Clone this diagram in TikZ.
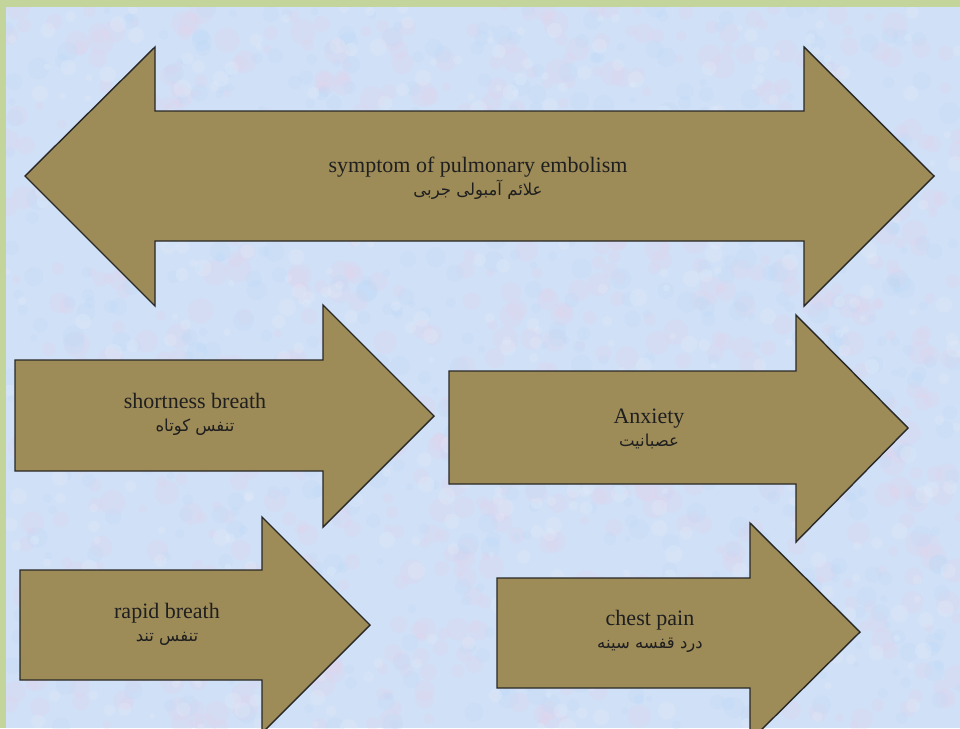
\documentclass[tikz,border=0pt]{standalone}
\usepackage{fontspec}
\setmainfont{Liberation Serif}
\newfontfamily\arabicfont[Script=Arabic]{DejaVu Sans}
\TeXXeTstate=1
\definecolor{frame}{RGB}{196,213,156}
\definecolor{paper}{RGB}{208,224,246}
\definecolor{blot}{RGB}{230,208,236}
\definecolor{blotb}{RGB}{188,216,246}
\definecolor{blotw}{RGB}{232,238,250}
\definecolor{khaki}{RGB}{157,139,88}
\definecolor{edge}{RGB}{40,40,38}
\newcommand{\fa}[1]{{\arabicfont\fontsize{16.5}{19}\selectfont\beginR #1\endR}}
\tikzset{
  arrowshape/.style={fill=khaki, draw=edge, line width=1.4pt, line join=miter},
  caption/.style={align=center, font=\fontsize{22}{27}\selectfont, text=black!88, inner sep=0pt}
}
\begin{document}
\begin{tikzpicture}[x=1pt,y=-1pt]
  \useasboundingbox (0,0) rectangle (960,728);
  \clip (0,0) rectangle (960,728);
  % page frame and mottled paper
  \fill[frame] (0,0) rectangle (960,728);
  \fill[paper] (6,7) rectangle (960,728);
  \begin{scope}
    \clip (6,7) rectangle (960,728);
    \pgfmathsetseed{4217}
    \foreach \i in {1,...,900}{
      \pgfmathsetmacro{\px}{6+954*rnd}
      \pgfmathsetmacro{\py}{7+721*rnd}
      \pgfmathsetmacro{\pr}{4+9*rnd}
      \fill[blot, opacity=0.22] (\px,\py) circle[radius=\pr];
    }
    \foreach \i in {1,...,700}{
      \pgfmathsetmacro{\px}{6+954*rnd}
      \pgfmathsetmacro{\py}{7+721*rnd}
      \pgfmathsetmacro{\pr}{3+8*rnd}
      \fill[blotb, opacity=0.22] (\px,\py) circle[radius=\pr];
    }
    \foreach \i in {1,...,500}{
      \pgfmathsetmacro{\px}{6+954*rnd}
      \pgfmathsetmacro{\py}{7+721*rnd}
      \pgfmathsetmacro{\pr}{3+6*rnd}
      \fill[blotw, opacity=0.25] (\px,\py) circle[radius=\pr];
    }
  \end{scope}

  % double-headed title arrow
  \draw[arrowshape] (25,176) -- (155,47) -- (155,111) -- (804,111) -- (804,47)
    -- (934,176) -- (804,306) -- (804,241) -- (155,241) -- (155,306) -- cycle;
  \node[caption] (title) at (478,178)
    {symptom of pulmonary embolism\\[-4pt]\fa{علائم آمبولی جربی}};

  % symptom arrows
  \draw[arrowshape] (15,360) -- (323,360) -- (323,305) -- (434,416)
    -- (323,527) -- (323,471) -- (15,471) -- cycle;
  \node[caption] (shortness) at (195,414)
    {shortness breath\\[-4pt]\fa{تنفس کوتاه}};

  \draw[arrowshape] (449,371) -- (796,371) -- (796,315) -- (908,428)
    -- (796,542) -- (796,484) -- (449,484) -- cycle;
  \node[caption] (anxiety) at (649,429)
    {Anxiety\\[-4pt]\fa{عصبانیت}};

  \draw[arrowshape] (20,570) -- (262,570) -- (262,517) -- (370,625)
    -- (262,733) -- (262,680) -- (20,680) -- cycle;
  \node[caption] (rapid) at (167,624)
    {rapid breath\\[-4pt]\fa{تنفس تند}};

  \draw[arrowshape] (497,578) -- (750,578) -- (750,523) -- (860,632)
    -- (750,741) -- (750,688) -- (497,688) -- cycle;
  \node[caption] (chest) at (650,631)
    {chest pain\\[-4pt]\fa{درد قفسه سینه}};
\end{tikzpicture}
\end{document}
